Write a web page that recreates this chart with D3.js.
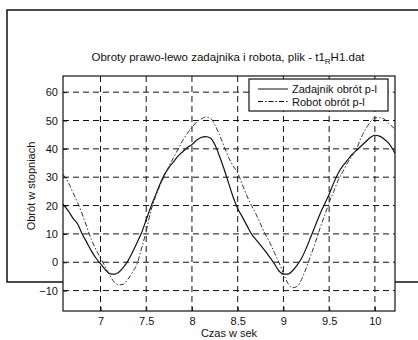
<!DOCTYPE html>
<html>
<head>
<meta charset="utf-8">
<script src="https://cdn.jsdelivr.net/npm/d3@7"></script>
<style>
  body { margin: 0; background: #fff; }
  svg { display: block; font-family: "Liberation Sans", Arial, sans-serif; }
</style>
</head>
<body>
<div id="chart"></div>
<script>
// czas w sekundach
const czas = [6.59, 6.65, 6.70, 6.75, 6.80, 6.85, 6.90, 6.95, 7.00, 7.05, 7.10, 7.15, 7.20, 7.25, 7.30, 7.35,
  7.40, 7.45, 7.50, 7.55, 7.60, 7.65, 7.70, 7.75, 7.80, 7.85, 7.90, 7.95, 8.00, 8.05, 8.10, 8.15, 8.20, 8.25,
  8.30, 8.35, 8.40, 8.45, 8.50, 8.55, 8.60, 8.65, 8.70, 8.75, 8.80, 8.85, 8.90, 8.95, 9.00, 9.05, 9.10, 9.15,
  9.20, 9.25, 9.30, 9.35, 9.40, 9.45, 9.50, 9.55, 9.60, 9.65, 9.70, 9.75, 9.80, 9.85, 9.90, 9.95, 10.00,
  10.05, 10.10, 10.15, 10.22]

const zadajnik = [20.5, 18, 15.5, 13.5, 10, 7, 4, 1.5, -0.5, -2.5, -4, -4.2, -3.5, -1.8, 0.5, 3.5,
  7, 10.5, 15, 19.5, 23.5, 27.5, 31, 33.5, 35.5, 37.5, 39, 40.5, 41.5, 43, 44, 44.3, 43.8, 41.5,
  37.5, 33, 28, 23, 19, 16, 13, 10, 8, 6, 4, 1.8, -0.5, -3, -4.2, -4.2, -3, -1,
  1.5, 5, 9, 13, 17, 20.5, 24, 28, 31.5, 34, 36, 38, 39.5, 41, 42.5, 44, 44.8,
  44.5, 43.5, 42, 38.5]

const robot = [31, 28, 24.5, 21, 17, 12.5, 8, 4.5, 1.5, -1.5, -4.5, -7, -8, -7.8, -6, -3.5,
  -0.5, 5, 11, 18, 23, 27, 30.5, 34, 37, 40, 43, 45.5, 47.5, 49.5, 50.5, 51.2, 50.8, 48.5,
  45, 41, 37, 34, 31.5, 27.5, 23.5, 20, 17, 13.5, 10, 7, 3.5, 0, -4, -7.5, -9, -8.5,
  -6, -2, 2.5, 7, 12, 16.5, 21, 25, 29, 32, 35, 37.5, 40, 44, 47, 49.5, 51,
  51, 50.5, 49, 47]

const xTicks = [7, 7.5, 8, 8.5, 9, 9.5, 10]
const yTicks = [-10, 0, 10, 20, 30, 40, 50, 60]
const legendLabels = ["Zadajnik obrót p-l", "Robot obrót p-l"]

const width = 418, height = 340
const margin = { top: 76, right: 23, bottom: 29, left: 63 }

const svg = d3.select("#chart").append("svg")
  .attr("width", width)
  .attr("height", height)

// ramka figury
svg.append("rect")
  .attr("x", 7).attr("y", 10)
  .attr("width", 430).attr("height", 272)
  .attr("fill", "none")
  .attr("stroke", "#111")
  .attr("stroke-width", 1.5)

const x = d3.scaleLinear()
  .domain([6.59, 10.22])
  .range([margin.left, width - margin.right])

const y = d3.scaleLinear()
  .domain([-17.2, 65.7])
  .range([height - margin.bottom, margin.top])

svg.append("rect")
  .attr("x", margin.left).attr("y", margin.top)
  .attr("width", width - margin.right - margin.left)
  .attr("height", height - margin.bottom - margin.top)
  .attr("fill", "#fff")

// siatka
svg.append("g")
  .attr("stroke", "#111")
  .attr("stroke-dasharray", "6,4")
  .selectAll("line.v")
  .data(xTicks)
  .join("line")
  .attr("x1", d => x(d)).attr("x2", d => x(d))
  .attr("y1", margin.top).attr("y2", height - margin.bottom)

svg.append("g")
  .attr("stroke", "#111")
  .attr("stroke-dasharray", "6,4")
  .selectAll("line.h")
  .data(yTicks)
  .join("line")
  .attr("x1", margin.left).attr("x2", width - margin.right)
  .attr("y1", d => y(d)).attr("y2", d => y(d))

const xAxis = g => g.attr("transform", `translate(0,${height - margin.bottom})`)
  .call(d3.axisBottom(x).tickValues(xTicks).tickFormat(d3.format("")).tickSizeInner(-4).tickSizeOuter(0).tickPadding(6))
  .call(g => g.select(".domain").remove())

const yAxis = g => g.attr("transform", `translate(${margin.left},0)`)
  .call(d3.axisLeft(y).tickValues(yTicks).tickSizeInner(-4).tickSizeOuter(0).tickPadding(5))
  .call(g => g.select(".domain").remove())

svg.append("g").call(xAxis)
svg.append("g").call(yAxis)

svg.selectAll(".tick text")
  .attr("font-size", 11)
  .attr("font-family", "Liberation Sans, Arial, sans-serif")
  .attr("fill", "#111")
svg.selectAll(".tick line").attr("stroke", "#111")

const line = d3.line()
  .x((d, i) => x(czas[i]))
  .y(d => y(d))
  .curve(d3.curveMonotoneX)

svg.append("path")
  .datum(zadajnik)
  .attr("fill", "none")
  .attr("stroke", "#111")
  .attr("stroke-width", 1.2)
  .attr("d", line)

svg.append("path")
  .datum(robot)
  .attr("fill", "none")
  .attr("stroke", "#333")
  .attr("stroke-width", 1)
  .attr("stroke-dasharray", "5,2,1.5,2")
  .attr("d", line)

// obramowanie osi
svg.append("rect")
  .attr("x", margin.left).attr("y", margin.top)
  .attr("width", width - margin.right - margin.left)
  .attr("height", height - margin.bottom - margin.top)
  .attr("fill", "none")
  .attr("stroke", "#111")
  .attr("stroke-width", 1.2)

// legenda
const legend = svg.append("g").attr("transform", "translate(249,79)")
legend.append("rect")
  .attr("width", 139).attr("height", 32)
  .attr("fill", "#fff")
  .attr("stroke", "#111")
  .attr("stroke-width", 1.2)

legend.selectAll("line")
  .data(legendLabels)
  .join("line")
  .attr("x1", 9).attr("x2", 39)
  .attr("y1", (d, i) => 10 + i * 12.5).attr("y2", (d, i) => 10 + i * 12.5)
  .attr("stroke", "#111")
  .attr("stroke-dasharray", (d, i) => i ? "5,2,1.5,2" : null)

legend.selectAll("text")
  .data(legendLabels)
  .join("text")
  .attr("x", 43)
  .attr("y", (d, i) => 14 + i * 12.5)
  .attr("font-size", 11)
  .attr("fill", "#111")
  .text(d => d)

// tytuł
const title = svg.append("text")
  .attr("x", 228).attr("y", 61)
  .attr("text-anchor", "middle")
  .attr("font-size", 11.5)
  .attr("fill", "#111")
title.append("tspan").text("Obroty prawo-lewo zadajnika i robota, plik - t1")
title.append("tspan").attr("dy", 3).attr("font-size", 8).text("R")
title.append("tspan").attr("dy", -3).text("H1.dat")

svg.append("text")
  .attr("x", 229).attr("y", 337)
  .attr("text-anchor", "middle")
  .attr("font-size", 11)
  .attr("fill", "#111")
  .text("Czas w sek")

svg.append("text")
  .attr("transform", "translate(35,186) rotate(-90)")
  .attr("text-anchor", "middle")
  .attr("font-size", 11)
  .attr("fill", "#111")
  .text("Obrót w stopniach")
</script>
</body>
</html>
